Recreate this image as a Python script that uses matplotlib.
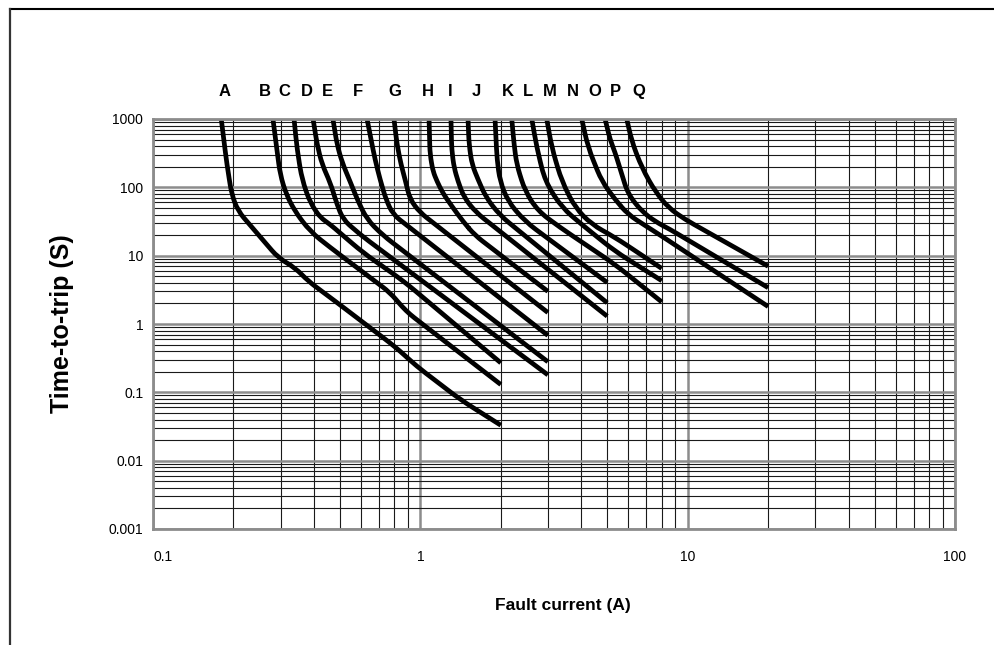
import numpy as np
import matplotlib
matplotlib.use("Agg")
import matplotlib.pyplot as plt
import matplotlib.ticker as mticker
from matplotlib.lines import Line2D
from matplotlib.patches import PathPatch
from matplotlib.path import Path

plt.rcParams['font.family'] = ['Liberation Sans', 'DejaVu Sans']

# Trip curves: fault current (A) vs time-to-trip (s).
a_x = [0.18, 0.189, 0.197, 0.208, 0.241, 0.294, 0.34, 0.381, 0.48, 0.77, 0.84, 0.969, 1.41, 2.0]
a_y = [1000, 216, 79, 45, 23, 9.3, 6.65, 4.23, 2.16, 0.53, 0.40, 0.241, 0.0785, 0.033]
b_x = [0.281, 0.289, 0.299, 0.315, 0.34, 0.387, 0.46, 0.77, 0.854, 0.915, 2.0]
b_y = [1000, 425, 155, 79, 44.4, 22.6, 13.2, 2.89, 1.80, 1.38, 0.13]
c_x = [0.337, 0.346, 0.361, 0.387, 0.422, 0.46, 0.61, 0.818, 0.915, 2.0]
c_y = [1000, 359, 130, 60.1, 36.3, 28.6, 11.1, 4.96, 3.54, 0.27]
d_x = [0.397, 0.411, 0.429, 0.46, 0.488, 0.514, 0.595, 3.0]
d_y = [1000, 425, 216, 118, 56.2, 33.9, 20.4, 0.18]
e_x = [0.471, 0.488, 0.51, 0.546, 0.585, 0.632, 0.725, 3.0]
e_y = [1000, 425, 231, 122, 62.2, 33.9, 19.8, 0.28]
f_x = [0.632, 0.654, 0.677, 0.707, 0.744, 0.79, 3.0]
f_y = [1000, 503, 256, 130, 66.5, 40.1, 0.68]
g_x = [0.797, 0.818, 0.847, 0.877, 0.915, 0.997, 3.0]
g_y = [1000, 425, 216, 130, 66.5, 42.9, 1.47]
h_x = [1.078, 1.087, 1.116, 1.155, 1.216, 1.314, 1.444, 1.602, 3.0]
h_y = [1000, 303, 171, 122, 81.4, 52.5, 31.7, 19.8, 3.0]
i_x = [1.302, 1.31, 1.337, 1.384, 1.457, 1.616, 5.0]
i_y = [1000, 359, 196, 122, 71.1, 42.9, 1.30]
j_x = [1.508, 1.521, 1.561, 1.644, 1.761, 1.987, 5.0]
j_y = [1000, 425, 216, 130, 71.1, 38.8, 2.04]
k_x = [1.903, 1.936, 1.987, 2.129, 2.464, 5.0]
k_y = [1000, 256, 122, 62.2, 31.7, 4.05]
l_x = [2.198, 2.242, 2.294, 2.464, 2.756, 3.332, 5.35, 8.0]
l_y = [1000, 425, 216, 88, 45, 25.9, 7.43, 2.1]
m_x = [2.612, 2.726, 2.928, 3.381, 4.016, 5.35, 8.0]
m_y = [1000, 384, 123, 50.8, 28.6, 11.6, 4.3]
n_x = [2.971, 3.102, 3.381, 3.792, 4.377, 5.35, 8.0]
n_y = [1000, 384, 123, 50.8, 28.6, 18.5, 6.5]
o_x = [4.016, 4.24, 4.771, 5.35, 5.984, 7.111, 8.0, 20]
o_y = [1000, 384, 123, 66.5, 40.1, 25.9, 19.3, 1.8]
p_x = [4.909, 5.125, 5.35, 5.984, 6.753, 7.551, 8.595, 20]
p_y = [1000, 503, 324, 79, 44.4, 31.7, 24.2, 3.4]
q_x = [5.918, 6.179, 6.735, 7.551, 8.469, 9.78, 20]
q_y = [1000, 475, 194, 88, 50.3, 33.9, 7.0]

# Curve letters and where they sit along the current axis.
letters = list("ABCDEFGHIJKLMNOPQ")
letter_x = [0.186, 0.262, 0.309, 0.376, 0.451, 0.585, 0.804, 1.069, 1.291,
            1.625, 2.128, 2.53, 3.06, 3.73, 4.50, 5.35, 6.58]

x_ticks = [0.1, 1, 10, 100]
x_tick_labels = ["0.1", "1", "10", "100"]
y_ticks = [0.001, 0.01, 0.1, 1, 10, 100, 1000]
y_tick_labels = ["0.001", "0.01", "0.1", "1", "10", "100", "1000"]

curves = [(a_x, a_y), (b_x, b_y), (c_x, c_y), (d_x, d_y), (e_x, e_y),
          (f_x, f_y), (g_x, g_y), (h_x, h_y), (i_x, i_y), (j_x, j_y),
          (k_x, k_y), (l_x, l_y), (m_x, m_y), (n_x, n_y), (o_x, o_y),
          (p_x, p_y), (q_x, q_y)]


def rounded_path(ax, xs, ys, r=14.0):
    """Polyline through the points with the corners rounded off on screen."""
    pts = ax.transData.transform(np.column_stack([xs, ys]))
    verts = [pts[0]]
    codes = [Path.MOVETO]
    for i in range(1, len(pts) - 1):
        p0, p, p1 = pts[i - 1], pts[i], pts[i + 1]
        d0 = np.hypot(*(p - p0))
        d1 = np.hypot(*(p1 - p))
        rr = min(r, d0 / 2, d1 / 2)
        verts += [p + (p0 - p) * rr / d0, p, p + (p1 - p) * rr / d1]
        codes += [Path.LINETO, Path.CURVE3, Path.CURVE3]
    verts.append(pts[-1])
    codes.append(Path.LINETO)
    return Path(ax.transData.inverted().transform(np.array(verts)), codes)


fig = plt.figure(figsize=(9.95, 6.45), dpi=100)
ax = fig.add_axes([153 / 995, 1 - 529 / 645, 802 / 995, 410 / 645])

ax.set_xscale("log")
ax.set_yscale("log")
ax.set_xlim(0.1, 100)
ax.set_ylim(0.001, 1000)
ax.set_autoscale_on(False)

# Dense log grid like a printed graph sheet.
sub = np.arange(2, 10)
ax.xaxis.set_minor_locator(mticker.LogLocator(base=10, subs=sub, numticks=50))
ax.yaxis.set_minor_locator(mticker.LogLocator(base=10, subs=sub, numticks=50))
ax.xaxis.set_minor_formatter(mticker.NullFormatter())
ax.yaxis.set_minor_formatter(mticker.NullFormatter())
ax.set_xticks(x_ticks, labels=x_tick_labels)
ax.set_yticks(y_ticks, labels=y_tick_labels)
ax.grid(which="minor", color="#1a1a1a", lw=0.8)
ax.grid(which="major", color="#8c8c8c", lw=1.8)
ax.set_axisbelow(True)
ax.tick_params(which="both", length=0, labelsize=10)
ax.tick_params(axis="y", pad=7)
ax.tick_params(axis="x", pad=15)
ax.get_xticklabels()[0].set_ha("left")
for sp in ax.spines.values():
    sp.set_color("#8c8c8c")
    sp.set_linewidth(2)

for xs, ys in curves:
    ax.add_patch(PathPatch(rounded_path(ax, xs, ys), fill=False,
                           edgecolor="black", lw=3.4, joinstyle="round",
                           capstyle="butt"))

for let, lx in zip(letters, letter_x):
    ax.text(lx, 2550, let, ha="center", va="center", fontsize=12,
            fontweight="bold", clip_on=False)

ax.set_ylabel("Time-to-trip (S)", fontsize=18, fontweight="bold")
ax.yaxis.set_label_coords(-0.098, 0.5)
ax.set_xlabel("Fault current (A)", fontsize=12.5, fontweight="bold")
ax.xaxis.set_label_coords(0.511, -0.168)

# Outer frame of the original chart: only the top and left edges show.
fig.add_artist(Line2D([9.5 / 995, 1.0], [1 - 8.5 / 645] * 2,
                      transform=fig.transFigure, color="black", lw=1.5))
fig.add_artist(Line2D([9.5 / 995] * 2, [0.0, 1 - 8.5 / 645],
                      transform=fig.transFigure, color="#333333", lw=1.6))

fig.savefig("out.png", dpi=100)
